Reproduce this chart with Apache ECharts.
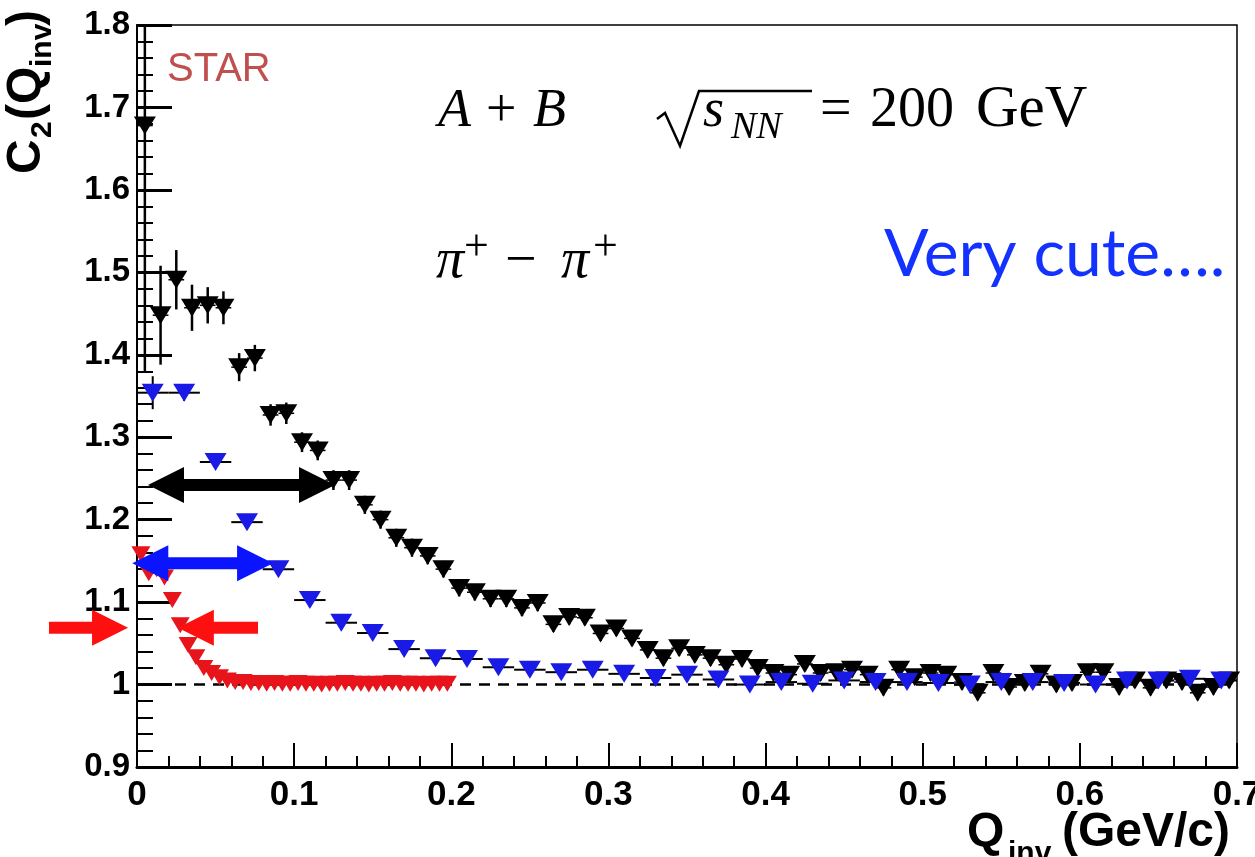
<!DOCTYPE html>
<html>
<head>
<meta charset="utf-8">
<script src="https://cdn.jsdelivr.net/npm/echarts@6/dist/echarts.min.js"></script>
<style>
  html, body { margin: 0; padding: 0; background: #ffffff; }
  #main { width: 1255px; height: 857px; }
</style>
</head>
<body>
<div id="main"></div>
<script>
// ---- data: correlation function C2(Qinv), three samples ----
const blackQ = [
  0.005, 0.015, 0.025, 0.035, 0.045, 0.055, 0.065, 0.075, 0.085, 0.095,
  0.105, 0.115, 0.125, 0.135, 0.145, 0.155, 0.165, 0.175, 0.185, 0.195,
  0.205, 0.215, 0.225, 0.235, 0.245, 0.255, 0.265, 0.275, 0.285, 0.295,
  0.305, 0.315, 0.325, 0.335, 0.345, 0.355, 0.365, 0.375, 0.385, 0.395,
  0.405, 0.415, 0.425, 0.435, 0.445, 0.455, 0.465, 0.475, 0.485, 0.495,
  0.505, 0.515, 0.525, 0.535, 0.545, 0.555, 0.565, 0.575, 0.585, 0.595,
  0.605, 0.615, 0.625, 0.635, 0.645, 0.655, 0.665, 0.675, 0.685, 0.695
];
const blackC2 = [
  1.678, 1.448, 1.491, 1.457, 1.460, 1.457, 1.385, 1.396, 1.327, 1.329,
  1.294, 1.284, 1.248, 1.248, 1.218, 1.200, 1.178, 1.166, 1.156, 1.140,
  1.117, 1.112, 1.104, 1.104, 1.093, 1.099, 1.073, 1.082, 1.081, 1.062,
  1.068, 1.056, 1.042, 1.032, 1.044, 1.036, 1.032, 1.024, 1.031, 1.020,
  1.014, 1.012, 1.025, 1.014, 1.015, 1.018, 1.012, 0.996, 1.018, 1.009,
  1.014, 1.012, 1.003, 0.990, 1.014, 0.997, 1.002, 1.013, 1.000, 1.002,
  1.015, 1.015, 0.997, 1.005, 0.996, 1.005, 1.003, 0.990, 0.997, 1.005
];
const blackErr = [
  0.300, 0.060, 0.036, 0.028, 0.022, 0.020, 0.017, 0.016, 0.013, 0.013,
  0.012, 0.012, 0.012, 0.012, 0.011, 0.011, 0.011, 0.011, 0.010, 0.010,
  0.010, 0.010, 0.010, 0.010, 0.010, 0.010, 0.009, 0.009, 0.009, 0.009,
  0.009, 0.009, 0.009, 0.009, 0.009, 0.009, 0.009, 0.009, 0.009, 0.009,
  0.009, 0.009, 0.009, 0.009, 0.009, 0.009, 0.009, 0.009, 0.009, 0.009,
  0.009, 0.009, 0.009, 0.009, 0.009, 0.009, 0.009, 0.009, 0.009, 0.009,
  0.009, 0.009, 0.009, 0.009, 0.009, 0.009, 0.009, 0.009, 0.009, 0.009
];
const blackHalfBin = 0.005;

const blueQ = [
  0.01, 0.03, 0.05, 0.07, 0.09, 0.11, 0.13, 0.15, 0.17, 0.19,
  0.21, 0.23, 0.25, 0.27, 0.29, 0.31, 0.33, 0.35, 0.37, 0.39,
  0.41, 0.43, 0.45, 0.47, 0.49, 0.51, 0.53, 0.55, 0.57, 0.59,
  0.61, 0.63, 0.65, 0.67, 0.69
];
const blueC2 = [
  1.354, 1.354, 1.270, 1.197, 1.140, 1.1025, 1.075, 1.0625, 1.043, 1.032,
  1.031, 1.021, 1.018, 1.015, 1.018, 1.013, 1.008, 1.012, 1.006, 1.000,
  1.003, 1.001, 1.005, 1.003, 1.003, 1.002, 1.000, 1.003, 1.003, 1.002,
  1.000, 1.005, 1.005, 1.007, 1.005
];
const blueErr = [
  0.020, 0.010, 0.006, 0.005, 0.004, 0.004, 0.004, 0.004, 0.004, 0.004,
  0.004, 0.004, 0.004, 0.004, 0.004, 0.004, 0.004, 0.004, 0.004, 0.004,
  0.004, 0.004, 0.004, 0.004, 0.004, 0.004, 0.004, 0.004, 0.004, 0.004,
  0.004, 0.004, 0.004, 0.004, 0.004
];
const blueHalfBin = 0.01;

const redQ = [
  0.0025, 0.0075, 0.0125, 0.0175, 0.0225, 0.0275, 0.0325, 0.0375, 0.0425, 0.0475,
  0.0525, 0.0575, 0.0625, 0.0675, 0.0725, 0.0775, 0.0825, 0.0875, 0.0925, 0.0975,
  0.1025, 0.1075, 0.1125, 0.1175, 0.1225, 0.1275, 0.1325, 0.1375, 0.1425, 0.1475,
  0.1525, 0.1575, 0.1625, 0.1675, 0.1725, 0.1775, 0.1825, 0.1875, 0.1925, 0.1975
];
const redC2 = [
  1.158, 1.135, 1.140, 1.130, 1.1025, 1.072, 1.048, 1.033, 1.020, 1.014,
  1.009, 1.005, 1.003, 1.003, 1.002, 1.002, 1.001, 1.002, 1.001, 1.001,
  1.002, 1.001, 1.001, 1.000, 1.001, 1.001, 1.002, 1.001, 1.001, 1.000,
  1.001, 1.001, 1.002, 1.001, 1.001, 1.001, 1.000, 1.001, 1.001, 1.001
];

// axis ranges and tick labels
const xRange = [0, 0.7];
const yRange = [0.9, 1.8];
const xTickLabels = ['0', '0.1', '0.2', '0.3', '0.4', '0.5', '0.6', '0.7'];
const yTickLabels = ['0.9', '1', '1.1', '1.2', '1.3', '1.4', '1.5', '1.6', '1.7', '1.8'];

// width annotations (data units): start, end, level, two-headed
const arrowFrom = [0.007, -0.003, -0.056, 0.077];
const arrowTo   = [0.126, 0.0866, -0.0057, 0.026];
const arrowAt   = [1.242, 1.147, 1.069, 1.069];
const arrowBoth = [1, 1, 0, 0];

// ---- drawing ----
const chart = echarts.init(document.getElementById('main'), null, { renderer: 'canvas' });

const arrowPalette = ['#000000', '#0a14ff', '#ff1010', '#ff1010'];
const SANS = '"Liberation Sans", Arial, sans-serif';
const SERIF = '"Liberation Serif", "Times New Roman", serif';

function txt(x, base, text, size, o) {
  o = o || {};
  return {
    type: 'text', x: x, y: base - 0.35 * size, silent: true, z: 50,
    style: {
      text: text, fontSize: size,
      fontFamily: o.family || SANS,
      fontWeight: o.weight || 'normal',
      fontStyle: o.italic ? 'italic' : 'normal',
      fill: o.color || '#000',
      align: 'left', verticalAlign: 'middle'
    }
  };
}

function errorBars(q, c, ey, ex) {
  return q.map((v, i) => [v, c[i], ey[i], ex]);
}

function errorBarRender(color, vWidth, hWidth) {
  return function (params, api) {
    const q = api.value(0), c = api.value(1), ey = api.value(2), ex = api.value(3);
    const lo = api.coord([q, c - ey]), hi = api.coord([q, c + ey]);
    const l = api.coord([q - ex, c]), r = api.coord([q + ex, c]);
    return {
      type: 'group',
      children: [
        { type: 'line', shape: { x1: lo[0], y1: lo[1], x2: hi[0], y2: hi[1] },
          style: { stroke: color, lineWidth: vWidth } },
        { type: 'line', shape: { x1: l[0], y1: l[1], x2: r[0], y2: r[1] },
          style: { stroke: color, lineWidth: hWidth } }
      ]
    };
  };
}

function arrowRender(params, api) {
  const from = api.value(0), y = api.value(1), to = api.value(2), both = api.value(3);
  const idx = params.dataIndex;
  const a = api.coord([from, y]), b = api.coord([to, y]);
  const L = 36, H = 18, T = 6;
  const py = a[1];
  let pts;
  if (both) {
    const x1 = Math.min(a[0], b[0]), x2 = Math.max(a[0], b[0]);
    pts = [[x1, py], [x1 + L, py - H], [x1 + L, py - T], [x2 - L, py - T], [x2 - L, py - H],
           [x2, py], [x2 - L, py + H], [x2 - L, py + T], [x1 + L, py + T], [x1 + L, py + H]];
  } else {
    const d = b[0] > a[0] ? 1 : -1;
    const hx = b[0] - d * L;
    pts = [[a[0], py - T], [hx, py - T], [hx, py - H], [b[0], py], [hx, py + H], [hx, py + T], [a[0], py + T]];
  }
  return { type: 'polygon', shape: { points: pts }, style: { fill: arrowPalette[idx] } };
}

const tri = 'triangle';

const graphics = [
  txt(167, 84, 'STAR', 40, { color: '#c0504d' }),
  // A + B   sqrt(s_NN) = 200 GeV
  txt(438, 131, 'A', 54, { family: SERIF, italic: true }),
  txt(486, 131, '+', 54, { family: SERIF }),
  txt(533, 131, 'B', 54, { family: SERIF, italic: true }),
  {
    type: 'polyline', silent: true, z: 50,
    shape: { points: [[657, 119], [665, 113], [680, 146], [699, 91], [812, 91]] },
    style: { stroke: '#000', lineWidth: 2.5, fill: null }
  },
  txt(703, 131, 's', 54, { family: SERIF, italic: true }),
  txt(731, 141, 'NN', 38, { family: SERIF, italic: true }),
  txt(820, 131, '=', 56, { family: SERIF }),
  txt(870, 131, '200', 56, { family: SERIF }),
  txt(976, 131, 'GeV', 59, { family: SERIF }),
  // pi+ - pi+
  txt(436, 282, 'π', 56, { family: SERIF, italic: true }),
  txt(464, 264, '+', 44, { family: SERIF }),
  txt(505, 282, '−', 56, { family: SERIF }),
  txt(561, 282, 'π', 56, { family: SERIF, italic: true }),
  txt(593, 264, '+', 44, { family: SERIF }),
  txt(884, 278, 'Very cute….', 66, { family: 'Lato, "Open Sans", sans-serif', color: '#1432ff' }),
  // x-axis title
  txt(967, 850, 'Q', 48, { weight: 'bold' }),
  txt(1008, 864, 'inv', 30, { weight: 'bold' }),
  txt(1062, 850, '(GeV/c)', 48, { weight: 'bold' }),
  // y-axis title, reading upwards
  {
    type: 'group', x: 44, y: 174, rotation: Math.PI / 2, silent: true, z: 50,
    children: [
      txt(0, 0, 'C', 48, { weight: 'bold' }),
      txt(36, 9, '2', 30, { weight: 'bold' }),
      txt(54, 0, '(', 48, { weight: 'bold' }),
      txt(70, 0, 'Q', 48, { weight: 'bold' }),
      txt(107, 9, 'inv', 30, { weight: 'bold' }),
      txt(148, 0, ')', 48, { weight: 'bold' })
    ]
  }
];

const option = {
  backgroundColor: '#ffffff',
  animation: false,
  grid: {
    left: 137, top: 25, right: 18, bottom: 90,
    containLabel: false, outerBoundsMode: 'none',
    show: true, borderColor: '#000', borderWidth: 1.5, backgroundColor: 'transparent'
  },
  xAxis: {
    type: 'value', min: xRange[0], max: xRange[1], interval: 0.1,
    axisLine: { show: true, onZero: false, lineStyle: { color: '#000', width: 3 } },
    axisTick: { show: true, inside: true, length: 24, lineStyle: { color: '#000', width: 2 } },
    minorTick: { show: true, splitNumber: 5, length: 11, lineStyle: { color: '#000', width: 2 } },
    splitLine: { show: false },
    axisLabel: {
      margin: 11, color: '#000', fontFamily: SANS, fontWeight: 'bold', fontSize: 35,
      formatter: (v) => xTickLabels[Math.round(v * 10)]
    }
  },
  yAxis: {
    type: 'value', min: yRange[0], max: yRange[1], interval: 0.1,
    axisLine: { show: true, onZero: false, lineStyle: { color: '#000', width: 2 } },
    axisTick: { show: true, inside: true, length: 35, lineStyle: { color: '#000', width: 3 } },
    minorTick: { show: true, splitNumber: 5, length: 16, lineStyle: { color: '#000', width: 2 } },
    splitLine: { show: false },
    axisLabel: {
      margin: 7, color: '#000', fontFamily: SANS, fontWeight: 'bold', fontSize: 33,
      formatter: (v) => yTickLabels[Math.round((v - 0.9) * 10)]
    }
  },
  series: [
    {
      name: 'unity', type: 'line', silent: true, symbol: 'none', z: 1,
      data: [[xRange[0], 1], [xRange[1], 1]],
      lineStyle: { color: '#000', width: 2.5, type: [11, 8] }
    },
    {
      name: 'black errors', type: 'custom', clip: true, z: 2,
      data: errorBars(blackQ, blackC2, blackErr, blackHalfBin),
      encode: { x: 0, y: 1 },
      renderItem: errorBarRender('#000', 2.5, 1.5)
    },
    {
      name: 'black', type: 'scatter', symbol: tri, symbolRotate: 180, symbolSize: [22, 18], z: 3,
      itemStyle: { color: '#000000', opacity: 1 },
      data: blackQ.map((q, i) => [q, blackC2[i]])
    },
    {
      name: 'blue errors', type: 'custom', clip: true, z: 4,
      data: errorBars(blueQ, blueC2, blueErr, blueHalfBin),
      encode: { x: 0, y: 1 },
      renderItem: errorBarRender('#000', 2, 2)
    },
    {
      name: 'blue', type: 'scatter', symbol: tri, symbolRotate: 180, symbolSize: [22, 18], z: 5,
      itemStyle: { color: '#1a1ae6', opacity: 1 },
      data: blueQ.map((q, i) => [q, blueC2[i]])
    },
    {
      name: 'red', type: 'scatter', symbol: tri, symbolRotate: 180, symbolSize: [19, 16], z: 6,
      itemStyle: { color: '#e8141c', opacity: 1 },
      data: redQ.map((q, i) => [q, redC2[i]])
    },
    {
      name: 'widths', type: 'custom', clip: false, z: 10, silent: true,
      data: arrowFrom.map((f, i) => [f, arrowAt[i], arrowTo[i], arrowBoth[i]]),
      encode: { x: 0, y: 1 },
      renderItem: arrowRender
    }
  ],
  graphic: graphics
};

chart.setOption(option);
</script>
</body>
</html>
